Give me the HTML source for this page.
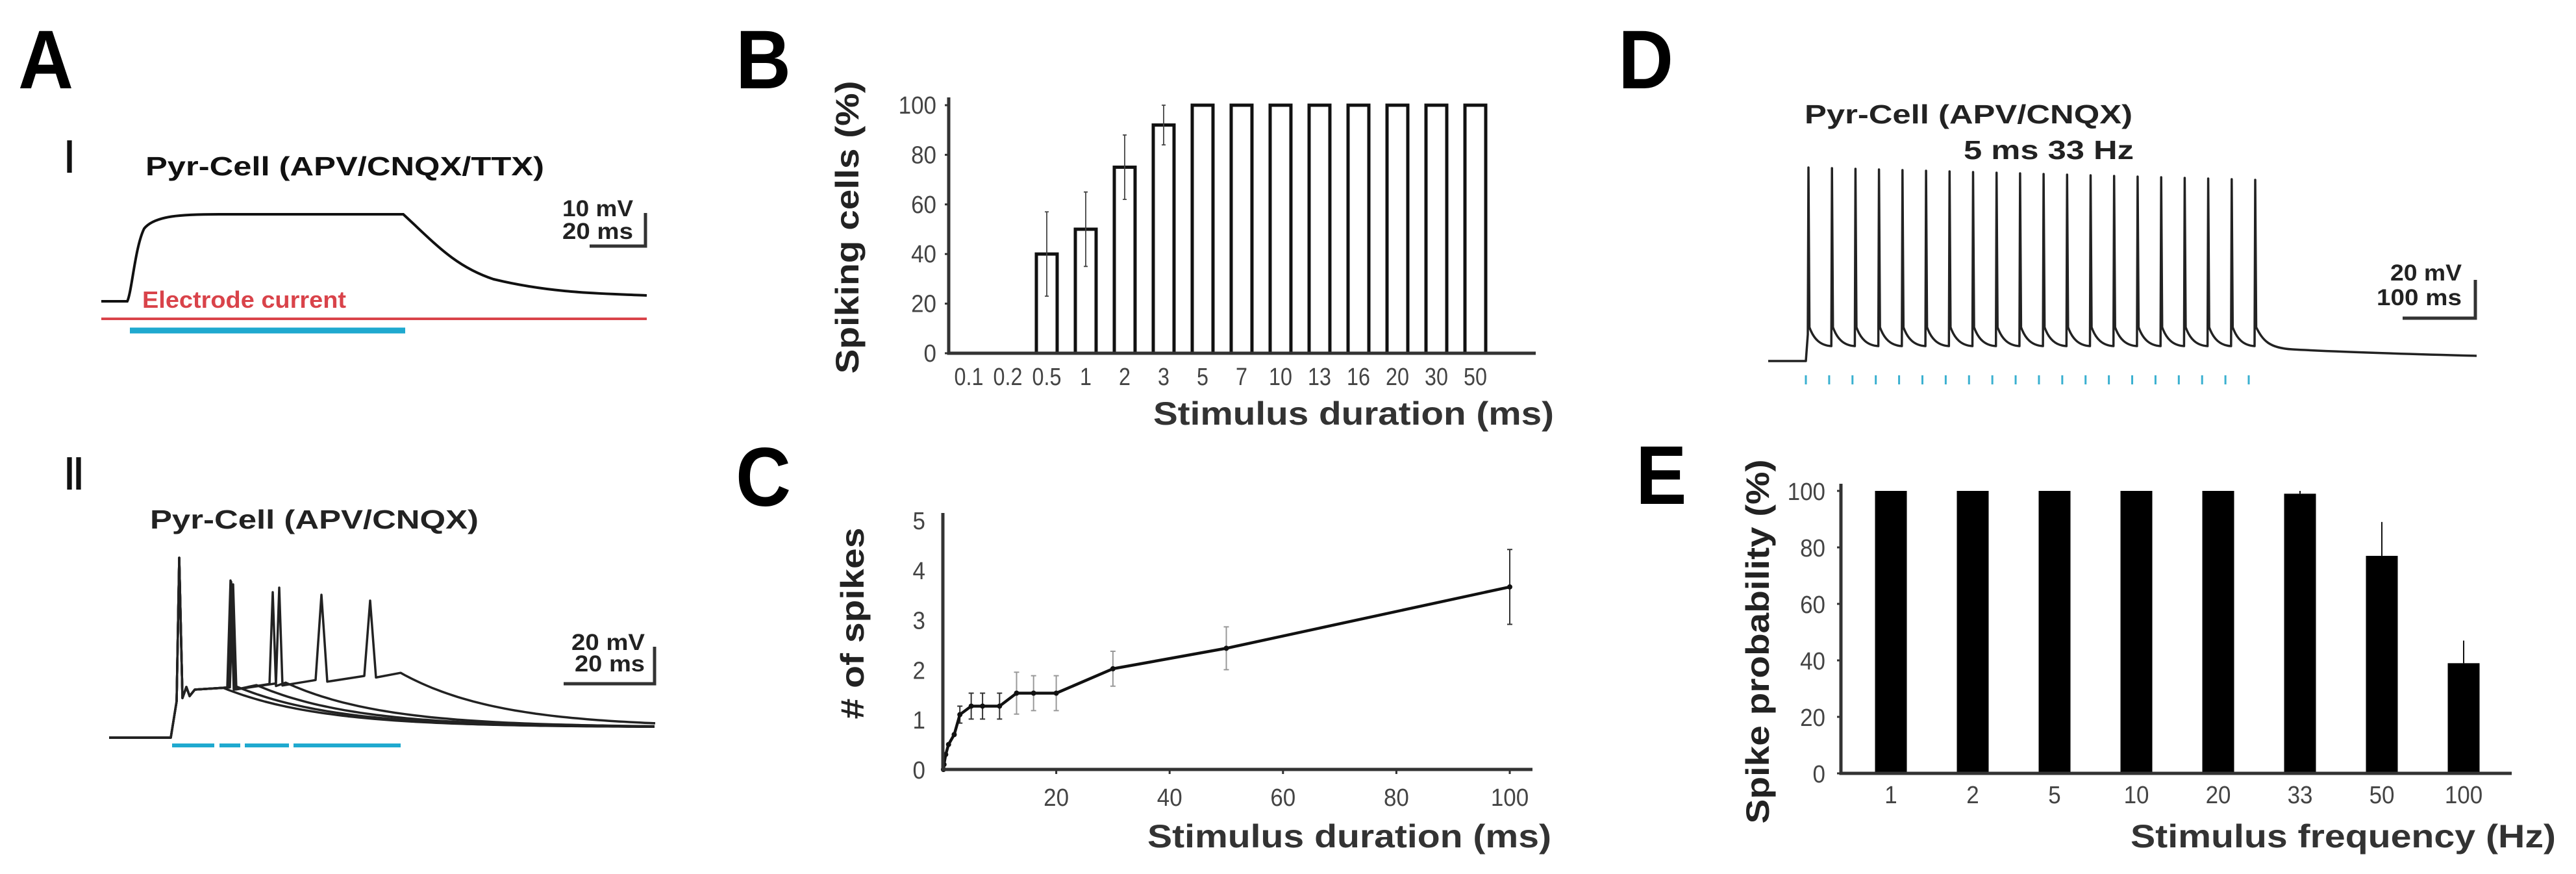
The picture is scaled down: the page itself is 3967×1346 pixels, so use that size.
<!DOCTYPE html>
<html><head><meta charset="utf-8"><style>
html,body{margin:0;padding:0;background:#fff;}
svg{display:block;font-family:"Liberation Sans",Arial,sans-serif;}
</style></head><body>
<svg id="fig" width="3967" height="1346" viewBox="0 0 3967 1346" xmlns="http://www.w3.org/2000/svg">
<rect x="0" y="0" width="3967" height="1346" fill="#fff"/>
</svg>
<script>
// ---- Panel B data ----
const bCategories = ["0.1","0.2","0.5","1","2","3","5","7","10","13","16","20","30","50"];
const bValues = [0,0,40,50,75,92,100,100,100,100,100,100,100,100];
const bErrors = [0,0,17,15,13,8,0,0,0,0,0,0,0,0];
const bTicks = [0,20,40,60,80,100];
// ---- Panel C data ----
const cX = [0.1,0.2,0.5,1,2,3,5,7,10,13,16,20,30,50,100];
const cY = [0,0.1,0.3,0.5,0.7,1.1,1.27,1.27,1.27,1.53,1.53,1.53,2.02,2.43,3.66];
const cErr = [0,0,0,0,0,0.17,0.26,0.26,0.26,0.42,0.35,0.35,0.35,0.43,0.75];
const cXTicks = [20,40,60,80,100];
const cYTicks = [0,1,2,3,4,5];
// ---- Panel E data ----
const eCategories = ["1","2","5","10","20","33","50","100"];
const eValues = [100,100,100,100,100,99,77,39];
const eErrors = [0,0,0,0,0,1,12,8];
const eTicks = [0,20,40,60,80,100];
// ---- Panel D ----
const dSpikeCount = 20;

const NS="http://www.w3.org/2000/svg";
const svg=document.getElementById('fig');
function el(tag,attrs){const e=document.createElementNS(NS,tag);for(const k in attrs)e.setAttribute(k,attrs[k]);svg.appendChild(e);return e;}
function txt(x,y,s,size,weight,anchor,sx,fill,rot,len){
  const t=document.createElementNS(NS,'text');
  t.textContent=s;
  t.setAttribute('font-size',size);
  t.setAttribute('font-weight',weight);
  t.setAttribute('text-anchor',anchor);
  t.setAttribute('fill',fill||'#111');
  if(len){t.setAttribute('textLength',len);t.setAttribute('lengthAdjust','spacingAndGlyphs');sx=1;}
  t.setAttribute('transform','translate('+x+','+y+')'+(rot?' rotate('+rot+')':'')+' scale('+sx+',1)');
  svg.appendChild(t);return t;
}
let t,e;
[["A",28,136],["B",1133,136],["C",1133,779],["D",2492,136],["E",2519,776]].forEach(function(p){
  t=txt(p[1],p[2],p[0],128,'bold','start',0.92,'#000');
  
  
});
// ===== Panel A-I =====
t=txt(100,266,"I",72,'bold','start',0.7,'#111');


t=txt(224,270,"Pyr-Cell (APV/CNQX/TTX)",41,'bold','start',1,'#111',0,614);


e=el('path',{d:"M156,464 L196,464 C203,450 208,380 222,352 C238,332 280,330 337,330 L621,330 C670,375 700,410 760,430 C850,452 930,452 996,455",fill:"none",stroke:"#111","stroke-width":4});


t=txt(219,474,"Electrode current",36,'bold','start',1,'#d9434a',0,314);


e=el('line',{x1:156,y1:491,x2:996,y2:491,stroke:"#d9434a","stroke-width":4});


e=el('line',{x1:200,y1:509,x2:624,y2:509,stroke:"#1fa9cf","stroke-width":9});


t=txt(975,333,"10 mV",35,'bold','end',1,'#222',0,109);


t=txt(975,368,"20 ms",35,'bold','end',1,'#222',0,109);


e=el('path',{d:"M908,379 L994,379 L994,328",fill:"none",stroke:"#333","stroke-width":5});


// ===== Panel A-II =====
t=txt(100,754,"II",72,'bold','start',0.7,'#111');


t=txt(231,814,"Pyr-Cell (APV/CNQX)",41,'bold','start',1,'#222',0,506);


const aiiEnds=[344,365,395,440,617];
const aiiSpikes=[[],[355],[359],[356,420],[358,430,495,570]];
const aiiPeaks=[[],[894],[900],[896,912],[901,905,916,925]];
function plate(x){return 1064-(x-290)*0.085;}
for(let k=0;k<5;k++){
  let d="M168,1136 L263,1136 L272,1080 L276,859 L281,1075 L287,1058 L292,1072 L300,1062";
  const sp=aiiSpikes[k];
  for(let j=0;j<sp.length;j++){
    const s=sp[j], w=(j>=2)?9:5;
    d+=" L"+(s-w)+","+plate(s-w).toFixed(1)+" L"+s+","+aiiPeaks[k][j]+" L"+(s+w)+","+(plate(s+w)+4).toFixed(1);
  }
  const end=aiiEnds[k];
  d+=" L"+end+","+plate(end).toFixed(1);
  const y0=plate(end);
  for(let xx=end+8;xx<=1010;xx+=8){
    const y=1120-(1120-y0)*Math.exp(-(xx-end)/150);
    d+=" L"+xx+","+y.toFixed(1);
  }
  e=el('path',{d:d,fill:"none",stroke:"#222","stroke-width":3.5,"stroke-linejoin":"round"});
  
  
}
[[265,330],[338,370],[377,445],[452,617]].forEach(function(b){
  e=el('line',{x1:b[0],y1:1148,x2:b[1],y2:1148,stroke:"#1fa9cf","stroke-width":6});
  
  
});
t=txt(993,1001,"20 mV",35,'bold','end',1,'#222',0,113);


t=txt(993,1034,"20 ms",35,'bold','end',1,'#222',0,108);


e=el('path',{d:"M868,1053 L1008,1053 L1008,996",fill:"none",stroke:"#333","stroke-width":5});



// ===== Panel B =====
function xB(i){return 1492+60*i;}
function yB(v){return 544-3.82*v;}
bValues.forEach(function(v,i){
  if(v>0){
    e=el('rect',{x:xB(i)-16,y:yB(v),width:32,height:yB(0)-yB(v),fill:"#fff",stroke:"#111","stroke-width":5});
    
    
  }
  if(bErrors[i]>0){
    e=el('path',{d:"M"+xB(i)+","+yB(v+bErrors[i])+" L"+xB(i)+","+yB(v-bErrors[i])+" M"+(xB(i)-3)+","+yB(v+bErrors[i])+" L"+(xB(i)+3)+","+yB(v+bErrors[i])+" M"+(xB(i)-3)+","+yB(v-bErrors[i])+" L"+(xB(i)+3)+","+yB(v-bErrors[i]),stroke:"#444","stroke-width":1.8,fill:"none"});
    
    
  }
  t=txt(xB(i),593,bCategories[i],38,'normal','middle',0.85,'#444');
  
  
});
e=el('path',{d:"M1461,150 L1461,544 L2365,544",fill:"none",stroke:"#333","stroke-width":5});


bTicks.forEach(function(v){
  e=el('line',{x1:1455,y1:yB(v),x2:1461,y2:yB(v),stroke:"#333","stroke-width":3});
  
  
  t=txt(1442,yB(v)+13,String(v),38,'normal','end',0.92,'#444');
  
  
});
t=txt(1322,350,"Spiking cells (%)",50,'bold','middle',1,'#222',-90,451);


t=txt(2393,654,"Stimulus duration (ms)",50,'bold','end',1,'#333',0,617);



// ===== Panel C =====
function xC(v){return 1452+8.73*v;}
function yC(v){return 1185-76.8*v;}
cX.forEach(function(x,i){
  if(cErr[i]>0){
    const g=(i>=9&&i<=13)?"#999":"#333";
    e=el('path',{d:"M"+xC(x)+","+yC(cY[i]+cErr[i])+" L"+xC(x)+","+yC(cY[i]-cErr[i])+" M"+(xC(x)-4)+","+yC(cY[i]+cErr[i])+" L"+(xC(x)+4)+","+yC(cY[i]+cErr[i])+" M"+(xC(x)-4)+","+yC(cY[i]-cErr[i])+" L"+(xC(x)+4)+","+yC(cY[i]-cErr[i]),stroke:g,"stroke-width":2,fill:"none"});
    
    
  }
});
let dC="";
cX.forEach(function(x,i){dC+=(i?" L":"M")+xC(x).toFixed(1)+","+yC(cY[i]).toFixed(1);});
e=el('path',{d:dC,fill:"none",stroke:"#111","stroke-width":4.5,"stroke-linejoin":"round"});


cX.forEach(function(x,i){
  e=el('circle',{cx:xC(x),cy:yC(cY[i]),r:4,fill:"#111"});
  
  
});
e=el('path',{d:"M1452,790 L1452,1185 L2360,1185",fill:"none",stroke:"#333","stroke-width":5});


cXTicks.forEach(function(v){
  e=el('line',{x1:xC(v),y1:1185,x2:xC(v),y2:1192,stroke:"#333","stroke-width":3});
  
  
  t=txt(xC(v),1241,String(v),38,'normal','middle',0.92,'#444');
  
  
});
cYTicks.forEach(function(v){
  t=txt(1425,yC(v)+14,String(v),38,'normal','end',0.92,'#444');
  
  
});
t=txt(1330,960,"# of spikes",50,'bold','middle',1,'#222',-90,295);


t=txt(2389,1305,"Stimulus duration (ms)",50,'bold','end',1,'#333',0,622);



// ===== Panel D =====
t=txt(2779,190,"Pyr-Cell (APV/CNQX)",41,'bold','start',1,'#222',0,505);


t=txt(3286,245,"5 ms 33 Hz",41,'bold','end',1,'#222',0,262);


let dD="M2723,556 L2781,556 L2784,515";
const step=(3473-2785)/(dSpikeCount-1);
for(let i=0;i<dSpikeCount;i++){
  const s=2785+step*i;
  const peak=258+19*i/(dSpikeCount-1);
  dD+=" L"+s.toFixed(1)+","+peak.toFixed(1)+" L"+(s+1.5).toFixed(1)+",504";
  if(i<dSpikeCount-1){
    dD+=" C"+(s+8).toFixed(1)+",522 "+(s+18).toFixed(1)+",532 "+(s+step-1).toFixed(1)+",533";
  }
}
dD+=" C3485,525 3495,536 3530,538 C3600,542 3700,545 3814,548";
e=el('path',{d:dD,fill:"none",stroke:"#222","stroke-width":3.5,"stroke-linejoin":"round"});


for(let i=0;i<dSpikeCount;i++){
  const x=2781+(3463-2781)/(dSpikeCount-1)*i;
  e=el('line',{x1:x,y1:578,x2:x,y2:592,stroke:"#3ab0d0","stroke-width":3});
  
  
}
t=txt(3791,432,"20 mV",35,'bold','end',1,'#222',0,110);


t=txt(3791,470,"100 ms",35,'bold','end',1,'#222',0,131);


e=el('path',{d:"M3700,490 L3812,490 L3812,431",fill:"none",stroke:"#333","stroke-width":5});



// ===== Panel E =====
function xE(i){return 2912+126*i;}
function yE(v){return 1191-4.35*v;}
eValues.forEach(function(v,i){
  e=el('rect',{x:xE(i)-24.5,y:yE(v),width:49,height:yE(0)-yE(v),fill:"#000"});
  
  
  if(eErrors[i]>0){
    e=el('line',{x1:xE(i),y1:yE(v),x2:xE(i),y2:yE(v+eErrors[i]),stroke:"#111","stroke-width":2});
    
    
  }
  t=txt(xE(i),1237,eCategories[i],38,'normal','middle',0.92,'#444');
  
  
});
e=el('path',{d:"M2835,745 L2835,1191 L3868,1191",fill:"none",stroke:"#333","stroke-width":5});


eTicks.forEach(function(v){
  e=el('line',{x1:2829,y1:yE(v),x2:2835,y2:yE(v),stroke:"#333","stroke-width":3});
  
  
  t=txt(2811,yE(v)+14,String(v),38,'normal','end',0.92,'#444');
  
  
});
t=txt(2724,988,"Spike probability (%)",50,'bold','middle',1,'#222',-90,561);


t=txt(3936,1305,"Stimulus frequency (Hz)",50,'bold','end',1,'#333',0,655);


</script>
</body></html>
